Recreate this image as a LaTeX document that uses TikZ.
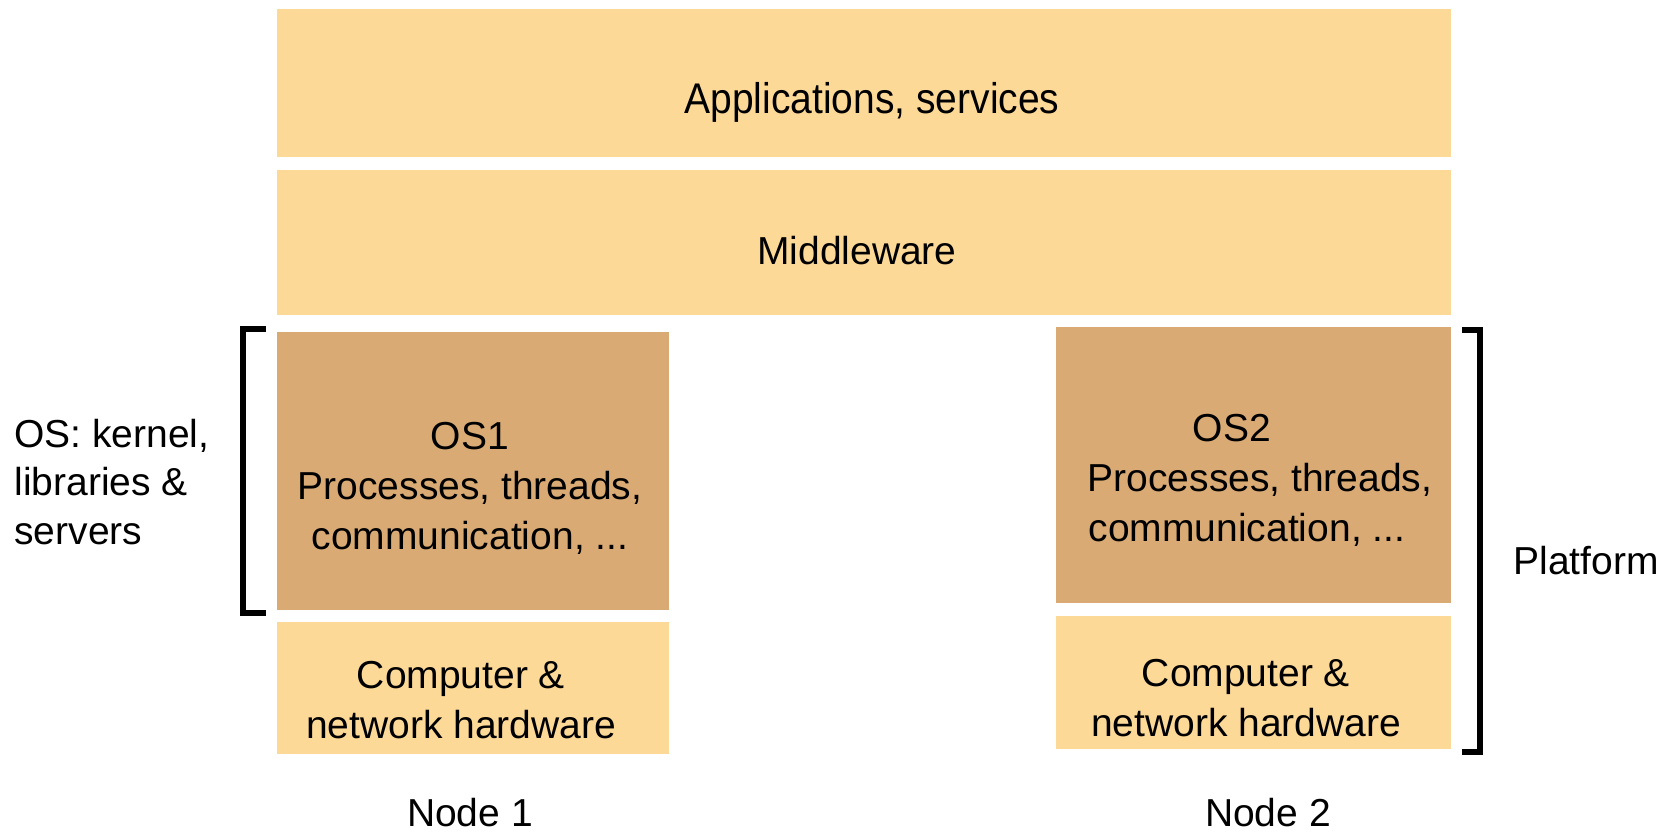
\documentclass[tikz,border=0pt]{standalone}
\usepackage{graphicx}
\usepackage{fontspec}
\setmainfont{Liberation Sans}
\definecolor{lightbox}{HTML}{FDD998}
\definecolor{darkbox}{HTML}{D9AA74}
\begin{document}
\begin{tikzpicture}[x=0.5pt,y=-0.5pt,
  box/.style={draw=none,inner sep=0pt,outer sep=0pt,anchor=north west},
  lbl/.style={font=\fontsize{19.5}{25}\selectfont,align=center,inner sep=0pt},
  brk/.style={line width=3pt,line cap=butt,line join=miter}]
\useasboundingbox (0,0) rectangle (1677,831);
% boxes
\node[box,fill=lightbox,minimum width=587pt,minimum height=74pt] (apps) at (277,9) {};
\node[box,fill=lightbox,minimum width=587pt,minimum height=72.5pt] (mw) at (277,170) {};
\node[box,fill=darkbox,minimum width=196pt,minimum height=139pt] (os1) at (277,332) {};
\node[box,fill=lightbox,minimum width=196pt,minimum height=66pt] (hw1) at (277,622) {};
\node[box,fill=darkbox,minimum width=197.5pt,minimum height=138pt] (os2) at (1056,327) {};
\node[box,fill=lightbox,minimum width=197.5pt,minimum height=66.5pt] (hw2) at (1056,616) {};
% texts
\node[lbl,anchor=base] (tapps) at (872,113) {\scalebox{1}[1.1]{Applications, services}};
\node[lbl,anchor=base] (tmw) at (857,264) {Middleware};
\node[lbl] (tos1) at (470,488) {OS1\\Processes, threads,\\communication, ...};
\node[lbl] (tos2) at (1260,480) {OS2\kern28pt\\Processes, threads,\\communication, ...\kern13pt};
\node[lbl] (thw1) at (461,700) {Computer \&\\network hardware};
\node[lbl] (thw2) at (1246,698) {Computer \&\\network hardware};
\node[lbl,anchor=base] (n1) at (470,826) {Node 1};
\node[lbl,anchor=base] (n2) at (1268,826) {Node 2};
\node[lbl,align=left,anchor=west,font=\fontsize{19.5}{24.25}\selectfont] (tosl) at (14,482) {OS: kernel,\\libraries \&\\servers};
\node[lbl,anchor=west] (tplat) at (1513,561) {Platform};
% brackets
\coordinate (lb1) at (266,329);
\coordinate (lb2) at (266,613);
\coordinate (rb1) at (1462,330);
\coordinate (rb2) at (1462,752);
\draw[brk] (lb1) -- (243,329) -- (243,613) -- (lb2);
\draw[brk] (rb1) -- (1480,330) -- (1480,752) -- (rb2);
\end{tikzpicture}
\end{document}
